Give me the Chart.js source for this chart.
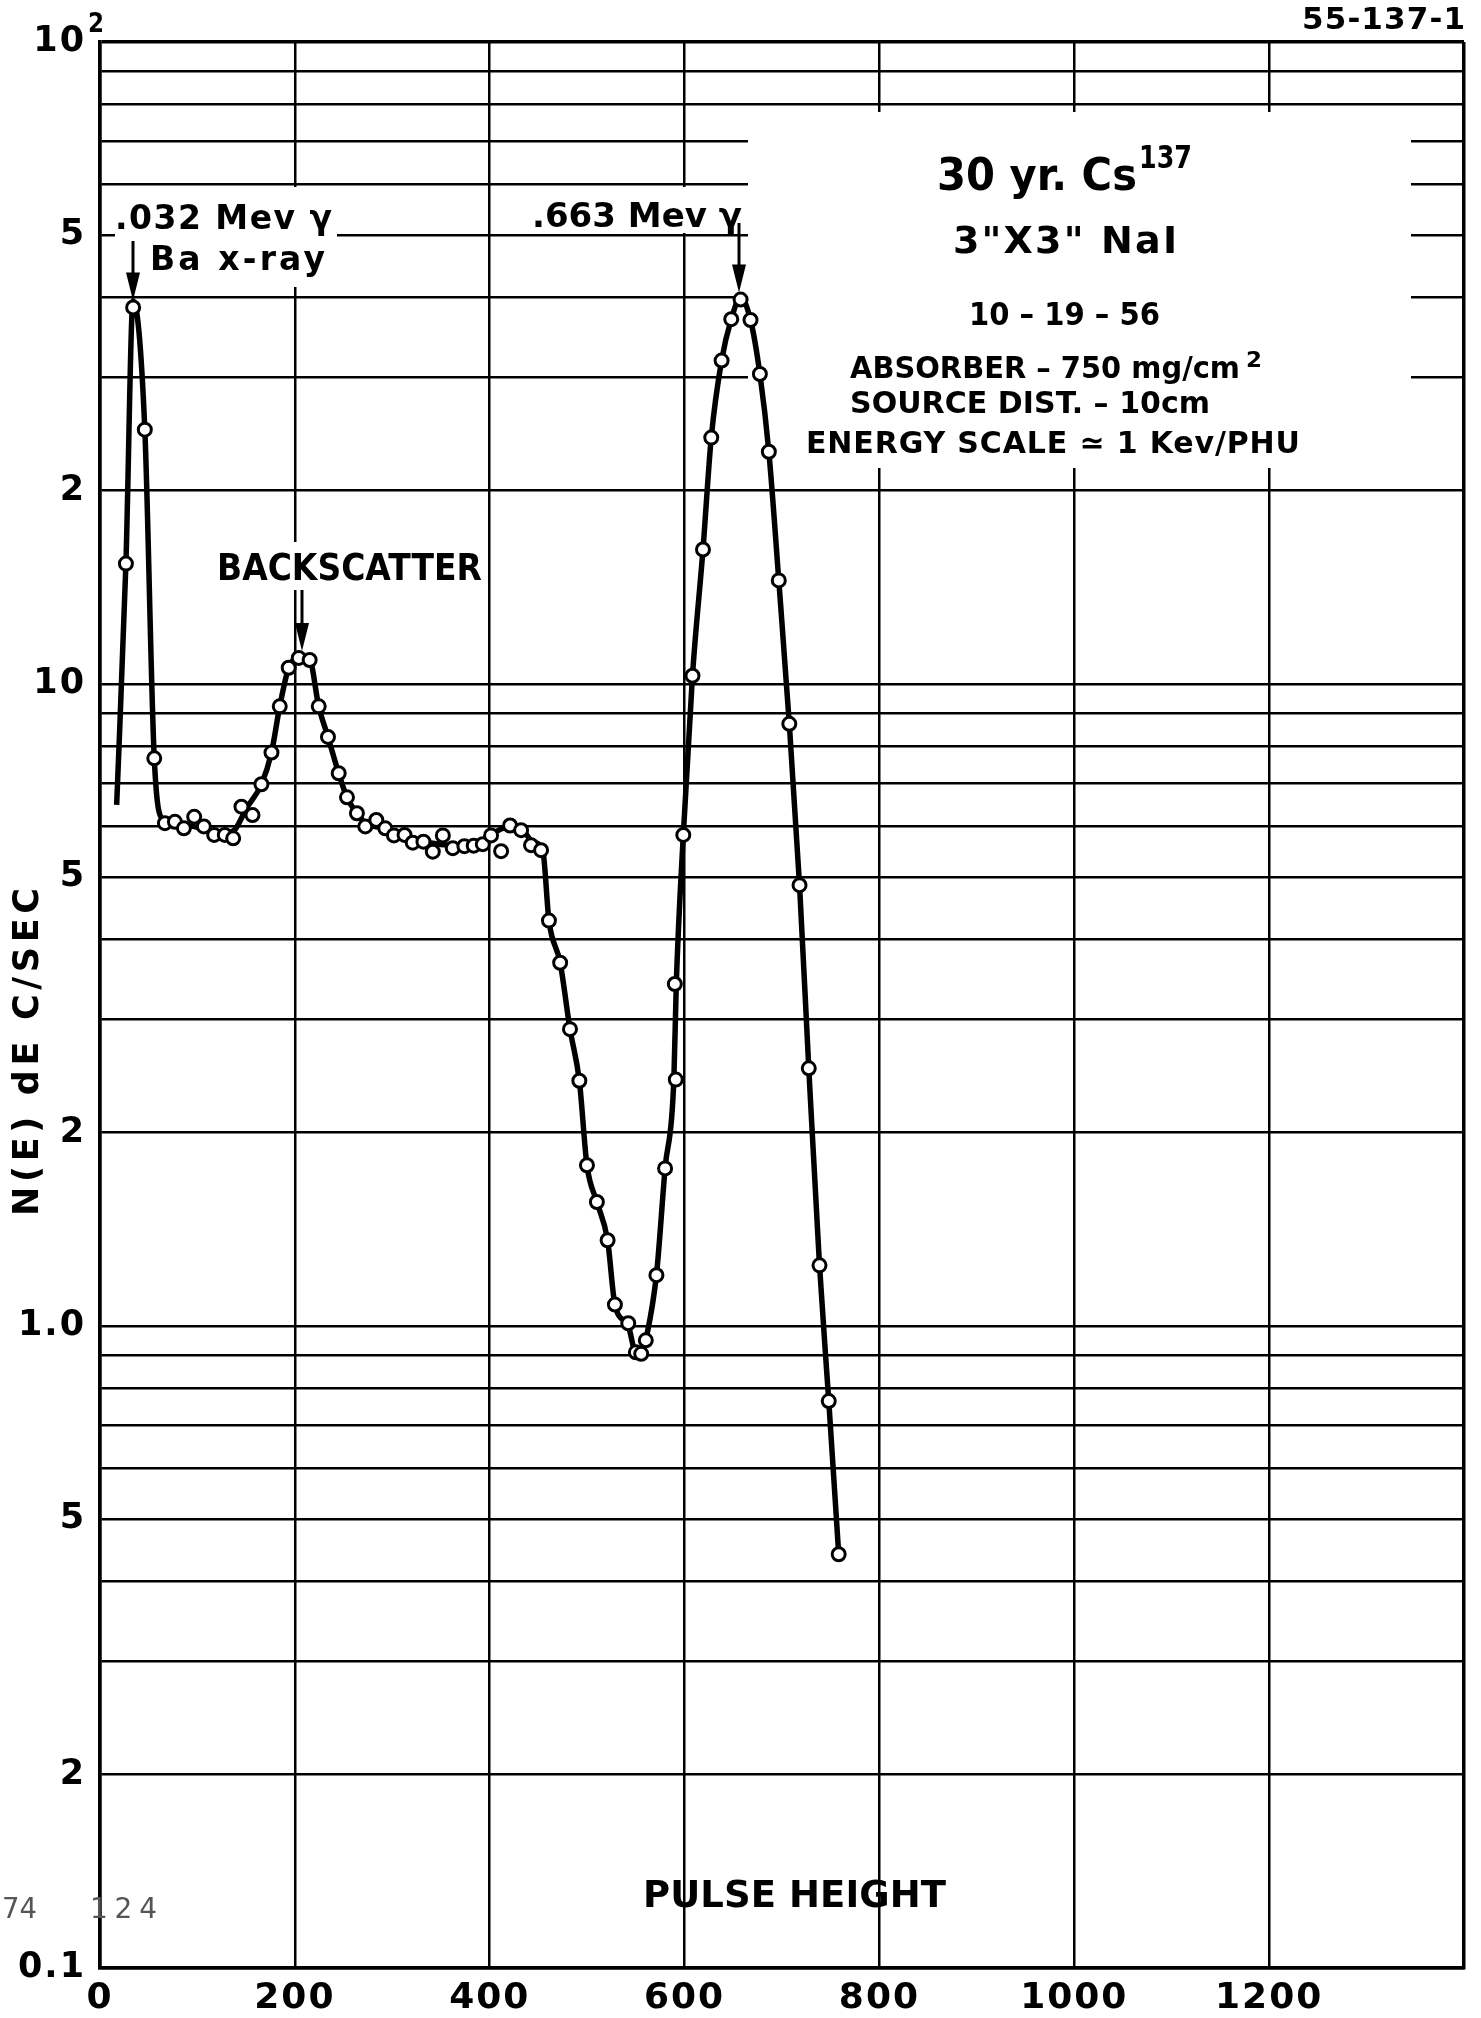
<!DOCTYPE html>
<html>
<head>
<meta charset="utf-8">
<title>30 yr. Cs137 - 3"X3" NaI</title>
<script src="https://cdn.jsdelivr.net/npm/chart.js@4.4.1/dist/chart.umd.min.js"></script>
<style>
    html, body { margin: 0; padding: 0; background: #fff; }
    #wrap { position: relative; width: 1481px; height: 2018px; }
</style>
</head>
<body>
<div id="wrap"><canvas id="spectrumChart"></canvas></div>
<script>
// ============================ 数据 ============================
// 测量点: 脉冲高度 (PHU) / N(E) dE (C/SEC)
const pointX = [
    26.6, 34, 46, 55.7, 66.6, 76.9, 86.1, 96.7, 106.6, 117.2,
    128.1, 136.7, 145.2, 156.5, 165.7, 176, 184.5, 193.7, 204, 215.2,
    224.5, 234, 245, 253.5, 263.7, 272.3, 283.6, 292.8, 301.7, 312.6,
    321, 332, 341.6, 351.9, 362.1, 374, 383.6, 392.9, 401.4, 411.7,
    420.9, 432.2, 442.4, 452.7, 460.8, 472.3, 482.4, 492, 499.8, 510,
    521, 528.5, 542.2, 550, 555.5, 560.2, 571.1, 580, 591, 590,
    598.7, 608.1, 618.9, 627.4, 638, 647.9, 657.5, 667.7, 677.3, 686.5,
    696.7, 707.5, 718, 727.5, 738.5, 748, 758.2
];
const pointY = [
    15.4, 38.6, 24.9, 7.66, 6.07, 6.10, 5.96, 6.21, 6.0, 5.82,
    5.82, 5.75, 6.44, 6.25, 6.98, 7.82, 9.23, 10.6, 10.98, 10.9,
    9.23, 8.27, 7.26, 6.66, 6.29, 6.0, 6.14, 5.96, 5.81, 5.82,
    5.66, 5.68, 5.48, 5.81, 5.55, 5.59, 5.6, 5.63, 5.81, 5.49,
    6.02, 5.92, 5.61, 5.51, 4.28, 3.68, 2.9, 2.41, 1.78, 1.56,
    1.36, 1.08, 1.01, 0.91, 0.905, 0.95, 1.2, 1.76, 2.42, 3.41,
    5.82, 10.3, 16.2, 24.2, 31.9, 37, 39.7, 36.9, 30.4, 23,
    14.5, 8.67, 4.86, 2.52, 1.243, 0.764, 0.441
];

// 手绘的平滑曲线
const curveX = [
    17.1, 26.6, 34, 46, 55.7, 64.9, 78.6, 95.7, 112.7, 129.8,
    138.4, 150.3, 165.7, 176, 184.5, 193.7, 204, 215.2, 224.5, 234,
    245, 253.5, 263.7, 273, 290, 307.5, 324.6, 341.6, 358.7, 375.8,
    392.9, 406.6, 420.2, 432.2, 444.1, 454.4, 460.8, 472.3, 482.4, 492,
    499.8, 510, 521, 528.5, 542.2, 550, 556, 560.2, 571.1, 580,
    589, 591.5, 598.7, 608.1, 618.9, 627.4, 638, 647.9, 657.5, 667.7,
    677.3, 686.5, 696.7, 707.5, 718, 727.5, 738.5, 748, 758.2
];
const curveY = [
    6.48, 15.4, 39.5, 24.9, 7.66, 6.14, 6.03, 6.0, 5.89, 5.86,
    5.93, 6.4, 6.98, 7.82, 9.23, 10.6, 11.0, 10.9, 9.23, 8.27,
    7.26, 6.66, 6.29, 6.07, 5.96, 5.82, 5.71, 5.65, 5.61, 5.61,
    5.68, 5.89, 6.0, 5.96, 5.68, 5.51, 4.28, 3.68, 2.9, 2.41,
    1.78, 1.56, 1.36, 1.08, 1.0, 0.905, 0.9, 0.95, 1.2, 1.76,
    2.42, 3.41, 5.82, 10.3, 16.2, 24.2, 31.9, 37, 40, 36.9,
    30.4, 23, 14.5, 8.67, 4.86, 2.52, 1.243, 0.764, 0.441
];

// 坐标轴刻度
const xTickValues = [0, 200, 400, 600, 800, 1000, 1200, 1400];
const xTickLabels = ['0', '200', '400', '600', '800', '1000', '1200', ''];
const yGridValues = [
    0.1, 0.2, 0.3, 0.4, 0.5, 0.6, 0.7, 0.8, 0.9,
    1, 2, 3, 4, 5, 6, 7, 8, 9,
    10, 20, 30, 40, 50, 60, 70, 80, 90, 100
];
const yLabelValues = [100, 50, 20, 10, 5, 2, 1, 0.5, 0.2, 0.1];
const yLabelTexts = ['10', '5', '2', '10', '5', '2', '1.0', '5', '2', '0.1'];

// 注释箭头指向的峰位
const arrowPeaks = [
    { x: 34, y: 38.6, top: 241 },
    { x: 207, y: 10.98, top: 590 },
    { x: 656, y: 39.7, top: 223 }
];

// ============================ 版面 ============================
const FONT = '"DejaVu Sans", "Liberation Sans", sans-serif';

// 文字后面的白底 [x0, y0, x1, y1]
const blanks = [
    [115, 187, 337, 287],
    [530, 187, 748, 233],
    [748, 112, 1411, 468],
    [212, 542, 486, 590]
];

// 文字: 左右边界、基线、字号
const notes = [
    { text: '2', x0: 88, x1: 104, y: 32, size: 26 },
    { text: '.032 Mev γ', x0: 115, x1: 332, y: 229, size: 33 },
    { text: 'Ba x-ray', x0: 150, x1: 325, y: 270, size: 33 },
    { text: '.663 Mev γ', x0: 532, x1: 742, y: 227, size: 34 },
    { text: 'BACKSCATTER', x0: 217, x1: 482, y: 580, size: 37 },
    { text: '30 yr. Cs', x0: 937, x1: 1137, y: 190, size: 45, weight: '600' },
    { text: '137', x0: 1139, x1: 1192, y: 168, size: 32, weight: '600' },
    { text: '3"X3" NaI', x0: 953, x1: 1177, y: 253, size: 38 },
    { text: '10 – 19 – 56', x0: 969, x1: 1160, y: 325, size: 32 },
    { text: 'ABSORBER – 750 mg/cm', x0: 850, x1: 1240, y: 378, size: 30 },
    { text: '2', x0: 1246, x1: 1262, y: 367, size: 22 },
    { text: 'SOURCE DIST. – 10cm', x0: 850, x1: 1210, y: 413, size: 30 },
    { text: 'ENERGY SCALE ≃ 1 Kev/PHU', x0: 806, x1: 1300, y: 453, size: 30 },
    { text: 'PULSE HEIGHT', x0: 643, x1: 946, y: 1907, size: 37 },
    { text: '55-137-1', x0: 1302, x1: 1465, y: 29, size: 31 }
];

function yLabel(v) {
    const i = yLabelValues.findIndex(l => Math.abs(l - v) < l * 1e-6);
    return i >= 0 ? yLabelTexts[i] : '';
}

// 在 x0..x1 之间铺开一行字
function fitText(c, text, x0, x1, baseY, size, weight) {
    c.font = `${weight || 'bold'} ${size}px ${FONT}`;
    c.letterSpacing = '0px';
    c.textAlign = 'left';
    c.textBaseline = 'alphabetic';
    const w = c.measureText(text).width;
    const n = [...text].length;
    const target = x1 - x0;
    if (w < target && n > 1) {
        c.letterSpacing = ((target - w) / (n - 1)).toFixed(2) + 'px';
        c.fillText(text, x0, baseY);
    } else {
        c.save();
        c.translate(x0, baseY);
        c.scale(target / w, 1);
        c.fillText(text, 0, 0);
        c.restore();
    }
    c.letterSpacing = '0px';
}

function drawArrow(c, x, yTop, yTip) {
    const head = 28;
    c.beginPath();
    c.moveTo(x, yTop);
    c.lineTo(x, yTip - head + 2);
    c.lineWidth = 3;
    c.strokeStyle = '#000';
    c.stroke();
    c.beginPath();
    c.moveTo(x - 7, yTip - head);
    c.lineTo(x + 7, yTip - head);
    c.lineTo(x, yTip);
    c.closePath();
    c.fillStyle = '#000';
    c.fill();
}

const paperPlugin = {
    id: 'paper',
    beforeDraw(chart) {
        const c = chart.ctx;
        c.save();
        c.fillStyle = '#fff';
        c.fillRect(0, 0, chart.width, chart.height);
        c.restore();
        // 刻度数字略微拉开
        c.letterSpacing = '2px';
    },
    beforeDatasetsDraw(chart) {
        const c = chart.ctx;
        c.save();
        c.fillStyle = '#fff';
        blanks.forEach(b => c.fillRect(b[0], b[1], b[2] - b[0], b[3] - b[1]));
        c.restore();
    },
    afterDatasetsDraw(chart) {
        const c = chart.ctx;
        const xs = chart.scales.x;
        const ys = chart.scales.y;
        c.save();
        c.fillStyle = '#000';

        // 指向峰位的箭头
        arrowPeaks.forEach(p => {
            drawArrow(c, Math.round(xs.getPixelForValue(p.x)), p.top, ys.getPixelForValue(p.y) - 7);
        });

        notes.forEach(n => fitText(c, n.text, n.x0, n.x1, n.y, n.size, n.weight));

        // 纵轴标题
        c.save();
        c.translate(38, 1052);
        c.rotate(-Math.PI / 2);
        fitText(c, 'N(E) dE C/SEC', -164, 164, 0, 35, 'bold');
        c.restore();

        // 左下角的铅笔记号
        c.fillStyle = '#555';
        fitText(c, '74', 2, 37, 1918, 28, 'normal');
        fitText(c, '124', 90, 157, 1918, 28, 'normal');
        c.restore();
    }
};

// ============================ 图表 ============================
function renderSpectrumChart() {
    const ctx = document.getElementById('spectrumChart').getContext('2d');

    const points = pointX.map((x, i) => ({ x: x, y: pointY[i] }));
    const curve = curveX.map((x, i) => ({ x: x, y: curveY[i] }));

    return new Chart(ctx, {
        type: 'scatter',
        data: {
            datasets: [
                {
                    label: 'measured',
                    data: points,
                    showLine: false,
                    pointRadius: 6.5,
                    pointBorderWidth: 3,
                    pointBackgroundColor: '#fff',
                    pointBorderColor: '#000',
                    order: 1
                },
                {
                    label: 'curve',
                    data: curve,
                    showLine: true,
                    pointRadius: 0,
                    borderColor: '#000',
                    borderWidth: 5.5,
                    cubicInterpolationMode: 'monotone',
                    order: 2
                }
            ]
        },
        options: {
            responsive: true,
            maintainAspectRatio: false,
            devicePixelRatio: 1,
            animation: false,
            layout: {
                padding: { top: 42, right: 17, bottom: 0, left: 0 }
            },
            plugins: {
                legend: { display: false },
                tooltip: { enabled: false }
            },
            scales: {
                x: {
                    type: 'linear',
                    min: 0,
                    max: 1400,
                    afterBuildTicks: s => { s.ticks = xTickValues.map(v => ({ value: v })); },
                    afterFit: s => { s.height = 50; },
                    ticks: {
                        autoSkip: false,
                        maxRotation: 0,
                        padding: 9,
                        color: '#000',
                        font: { family: FONT, weight: 'bold', size: 36 },
                        callback: (v, i) => xTickLabels[i]
                    },
                    grid: {
                        color: '#000',
                        drawTicks: false,
                        lineWidth: c => (c.tick && c.tick.value === 1400 ? 3.5 : 2.5)
                    },
                    border: { color: '#000', width: 3.5 }
                },
                y: {
                    type: 'logarithmic',
                    min: 0.1,
                    max: 100,
                    afterBuildTicks: s => { s.ticks = yGridValues.map(v => ({ value: v })); },
                    afterFit: s => { s.width = 100; },
                    ticks: {
                        autoSkip: false,
                        padding: 14,
                        color: '#000',
                        font: { family: FONT, weight: 'bold', size: 35 },
                        callback: v => yLabel(v)
                    },
                    grid: {
                        color: '#000',
                        drawTicks: false,
                        lineWidth: c => (c.tick && c.tick.value === 100 ? 3.5 : 2.5)
                    },
                    border: { color: '#000', width: 3.5 }
                }
            }
        },
        plugins: [paperPlugin]
    });
}

renderSpectrumChart();
</script>
</body>
</html>
